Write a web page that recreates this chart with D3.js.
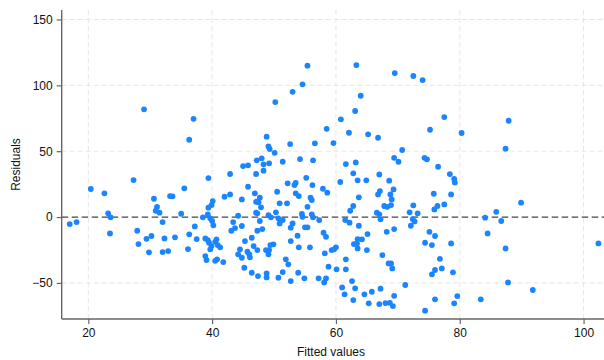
<!DOCTYPE html>
<html><head><meta charset="utf-8">
<script src="https://cdn.jsdelivr.net/npm/d3@7"></script>
<style>
html,body{margin:0;padding:0;background:#fff;}
svg text{font-family:"Liberation Sans",Arial,Helvetica,sans-serif;}
</style></head>
<body>
<svg id="chart" width="604" height="360"></svg>
<script>
const fitted = [29.0,27.3,20.4,22.6,30.6,33.2,33.6,31.1,30.9,31.5,23.2,23.6,17.0,18.1,32.0,23.5,27.9,28.1,29.4,30.2,32.3,29.8,32.0,32.9,34.0,
37.0,36.3,50.2,48.8,49.1,49.3,50.1,48.0,47.2,45.0,45.8,48.3,49.2,48.3,47.1,42.9,39.4,35.5,45.8,50.5,46.9,47.7,42.9,42.0,44.8,40.1,39.9,39.4,47.1,47.5,47.9,50.9,47.1,47.3,35.0,39.3,39.7,38.5,44.2,40.0,49.1,49.5,50.3,50.7,47.7,43.4,40.2,37.2,43.7,44.8,43.1,48.1,47.3,50.9,36.3,37.5,38.9,39.3,40.7,40.5,39.5,46.4,45.3,40.9,41.3,39.9,39.7,46.7,49.9,49.4,48.7,49.2,47.3,44.5,36.1,45.7,46.0,44.2,49.1,44.8,46.1,38.9,39.1,40.5,40.8,41.8,45.2,46.4,47.4,48.8,48.8,50.7,
55.4,63.3,54.6,53.0,64.0,63.1,60.8,58.5,62.1,65.2,66.8,52.6,56.6,59.6,51.4,54.2,56.3,61.6,63.2,62.8,67.0,55.2,63.5,64.9,60.7,52.2,53.5,53.3,56.2,57.9,58.6,53.5,54.0,66.8,67.1,63.7,55.9,56.1,52.1,55.4,62.8,62.3,67.8,54.5,54.6,56.1,56.3,51.4,57.3,53.0,52.7,61.5,62.2,66.6,67.0,67.2,55.0,55.4,63.7,53.8,58.0,58.4,65.1,52.7,54.0,55.8,63.5,64.2,63.4,62.9,63.5,65.0,59.3,59.7,60.0,58.2,67.5,51.9,52.3,58.8,61.6,60.1,61.6,51.4,53.9,52.7,54.9,57.2,58.4,58.1,62.6,61.0,63.1,67.2,61.4,65.8,64.6,62.8,65.3,67.0,68.0,
69.5,72.5,74.0,77.5,75.2,80.3,70.7,69.4,70.1,74.3,74.7,76.5,68.6,78.4,79.1,79.2,69.3,68.8,69.0,68.9,75.8,78.6,68.3,72.5,76.4,75.9,77.5,71.9,73.2,72.4,72.7,72.1,84.1,68.2,69.4,75.1,76.0,84.5,74.4,75.5,78.6,76.8,68.5,68.9,69.1,77.1,76.0,75.5,78.9,71.2,69.4,68.7,69.2,76.0,79.6,79.1,83.4,74.4,
87.9,87.4,89.9,85.9,86.7,87.4,102.4,87.8,91.8];
const residuals = [81.8,28.1,21.3,18.0,13.9,15.9,15.7,7.8,4.8,3.3,2.8,-0.2,-5.3,-3.8,-3.8,-12.4,-10.4,-20.5,-16.5,-14.4,-16.2,-26.8,-26.6,-25.8,-15.4,
74.6,58.7,87.3,61.0,53.6,51.6,48.8,44.6,43.1,38.7,39.3,40.0,40.8,35.2,32.7,32.7,29.6,21.8,23.0,19.2,18.0,14.7,17.2,15.4,13.4,12.1,9.1,7.1,11.6,11.2,7.4,10.4,3.3,2.8,2.5,2.1,-1.0,-0.2,1.0,-3.0,1.5,-0.2,3.6,-1.0,-3.0,-3.8,-6.3,-7.1,-8.4,-6.8,-10.4,-9.1,-10.4,-4.8,-13.1,-16.7,-16.2,-17.5,-16.9,-18.8,-19.5,-15.7,-18.2,-21.3,-23.0,-22.0,-24.5,-22.0,-20.7,-21.3,-25.1,-25.1,-25.1,-24.5,-24.3,-26.3,-28.3,-28.3,-28.3,-30.9,-30.6,-29.6,-32.7,-33.2,-32.1,-34.2,-38.5,-42.3,-44.8,-42.7,-45.8,-46.1,
114.9,115.4,100.8,95.1,92.1,80.5,74.2,67.0,64.0,62.8,60.2,55.4,56.0,56.2,42.0,44.0,43.1,40.2,41.5,33.2,32.4,29.8,27.9,27.9,26.6,25.6,26.0,24.3,24.3,21.5,18.5,18.0,15.9,17.2,19.7,15.0,14.7,12.9,10.4,7.8,8.4,4.8,8.4,2.3,0.2,2.1,-0.2,-2.3,-2.3,-4.8,-8.1,-2.3,-4.3,3.3,2.1,-1.7,-7.8,-7.8,-6.6,-14.2,-11.9,-15.0,-12.9,-18.2,-23.0,-23.0,-16.7,-16.9,-20.0,-20.5,-23.8,-25.1,-25.1,-24.5,-23.0,-27.6,-28.9,-32.1,-35.9,-37.7,-32.1,-39.7,-39.7,-41.8,-42.3,-48.6,-46.5,-46.5,-46.5,-49.6,-48.6,-53.4,-54.1,-54.4,-58.7,-56.7,-58.7,-63.0,-65.5,-66.1,-65.3,
109.3,107.1,104.0,75.9,66.3,63.8,50.9,45.0,42.0,45.0,43.8,38.2,27.6,32.6,28.9,26.3,21.0,17.2,13.4,9.1,17.7,17.2,7.8,8.9,8.4,5.8,9.6,3.6,2.8,-1.5,-3.3,-6.6,-0.5,-11.2,-9.1,-11.2,-14.4,-12.4,-19.5,-21.3,-20.0,-31.7,-35.2,-35.2,-39.0,-39.0,-40.2,-43.5,-42.0,-51.6,-59.8,-65.1,-67.6,-62.5,-60.0,-65.5,-62.5,-71.1,
73.1,51.9,10.9,4.0,-3.0,-23.8,-20.0,-49.6,-55.4];
const xTicks = [20,40,60,80,100];
const yTicks = [-50,0,50,100,150];
const xTitle = "Fitted values";
const yTitle = "Residuals";

const svg = d3.select("#chart");
const L = 61.7, R = 604, T = 10, B = 319;
const x = d3.scaleLinear().domain([15.7,103.3]).range([L,R]);
const y = d3.scaleLinear().domain([-77.4,157.2]).range([B,T]);

// grid
const grid = svg.append("g");
grid.selectAll("line.gy").data(yTicks.filter(d=>d!==0)).join("line")
  .attr("x1",L).attr("x2",R).attr("y1",d=>y(d)).attr("y2",d=>y(d))
  .attr("stroke","#e6e6e6").attr("stroke-width",1).attr("stroke-dasharray","5,3");
grid.selectAll("line.gx").data(xTicks).join("line")
  .attr("x1",d=>x(d)).attr("x2",d=>x(d)).attr("y1",T).attr("y2",B)
  .attr("stroke","#e6e6e6").attr("stroke-width",1).attr("stroke-dasharray","5,3");

// zero line
svg.append("line").attr("x1",L).attr("x2",R).attr("y1",y(0)).attr("y2",y(0))
  .attr("stroke","#444").attr("stroke-width",1.2).attr("stroke-dasharray","6.5,3.5");

// points
const pts = fitted.map((f,i)=>({f, r: residuals[i]}));
svg.append("g").selectAll("circle").data(pts).join("circle")
  .attr("cx",d=>x(d.f)).attr("cy",d=>y(d.r)).attr("r",2.9)
  .attr("fill","#1a85ff");

// axes
const xAxis = d3.axisBottom(x).tickValues(xTicks).tickSize(5).tickPadding(4);
const yAxis = d3.axisLeft(y).tickValues(yTicks).tickSize(5).tickPadding(4);
const gx = svg.append("g").attr("transform",`translate(0,${B})`).call(xAxis);
const gy = svg.append("g").attr("transform",`translate(${L},0)`).call(yAxis);
[gx,gy].forEach(g=>{
  g.select(".domain").attr("stroke","#666").attr("stroke-width",1.4);
  g.selectAll(".tick line").attr("stroke","#666").attr("stroke-width",1.2);
  g.selectAll(".tick text").attr("fill","#111").style("font-size","12px")
   .style("font-family","'Liberation Sans',Arial,sans-serif");
});
gx.select(".domain").attr("d",`M${L},0H${R}`);
gy.select(".domain").attr("d",`M0,${T}V${B}`);

svg.append("text").attr("x",331).attr("y",356).attr("text-anchor","middle")
  .attr("fill","#111").style("font-size","12px").text(xTitle);
svg.append("text").attr("transform",`translate(20,${(T+B)/2}) rotate(-90)`)
  .attr("text-anchor","middle").attr("fill","#111").style("font-size","12px").text(yTitle);
</script>
</body></html>
